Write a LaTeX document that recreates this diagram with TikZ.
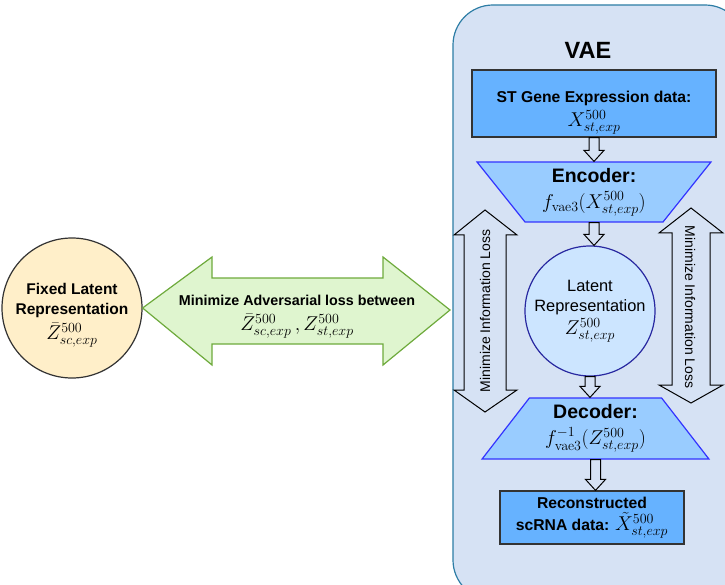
\RequirePackage{fix-cm}
\documentclass[tikz,border=0pt]{standalone}
\usepackage{amsmath}
\usepackage[no-math]{fontspec}
\setmainfont{Liberation Sans}
\usetikzlibrary{shapes.geometric,calc}

\definecolor{vaebg}{RGB}{214,226,244}
\definecolor{vaeline}{RGB}{45,125,165}
\definecolor{datablue}{RGB}{102,178,255}
\definecolor{codeblue}{RGB}{153,204,255}
\definecolor{codeline}{RGB}{51,51,255}
\definecolor{latfill}{RGB}{204,229,255}
\definecolor{latline}{RGB}{40,40,160}
\definecolor{fixfill}{RGB}{255,239,201}
\definecolor{advfill}{RGB}{223,245,207}
\definecolor{advline}{RGB}{110,170,60}

\newcommand{\mathsz}{\fontsize{20}{22}\selectfont}

\tikzset{
  gap arrow/.style={draw=black, fill=vaebg, line width=1pt,
    to path={let \p1=(\tikztostart.south), \p2=(\tikztotarget.north) in
      (\x1-5pt,\y1) -- (\x1-5pt,\y2+11pt) -- (\x1-10pt,\y2+11pt) -- (\x1,\y2)
      -- (\x1+10pt,\y2+11pt) -- (\x1+5pt,\y2+11pt) -- (\x1+5pt,\y1) -- cycle}}
}

\begin{document}
\begin{tikzpicture}[x=1pt, y=-1pt, thick,
    data node/.style={rectangle, draw=black!80, fill=datablue, line width=1.2pt,
      align=center, inner sep=0pt, font=\fontsize{15.7}{19}\selectfont\bfseries},
    code node/.style={trapezium, trapezium stretches=true, draw=codeline, fill=codeblue,
      line width=1.2pt, align=center, inner sep=0pt, font=\fontsize{19.5}{23}\selectfont\bfseries},
    lat node/.style={circle, draw=latline, fill=latfill, line width=1.2pt, align=center,
      inner sep=0pt, font=\fontsize{16.4}{20}\selectfont},
    fix node/.style={circle, draw=black!80, fill=fixfill, line width=1.2pt, align=center,
      inner sep=0pt, font=\fontsize{15.5}{19.5}\selectfont\bfseries},
    loss text/.style={font=\fontsize{14}{16}\selectfont}]
    \clip (0,0) rectangle (725,585);
    \useasboundingbox (0,0) rectangle (725,585);

    % VAE container
    \draw[draw=vaeline, fill=vaebg, line width=1.2pt, rounded corners=40pt] (453,5) rectangle (745,600);
    \node[font=\fontsize{23.5}{26}\selectfont\bfseries] (vae) at (588,50) {VAE};

    \node[data node, minimum width=244pt, minimum height=67pt] (gene) at (594,103.5)
        {\rule{0pt}{30pt}ST Gene Expression data:\\[3pt] {\mathsz$X^{500}_{st,exp}$}};
    \node[code node, minimum width=234pt, minimum height=60pt,
          trapezium left angle=127, trapezium right angle=127] (enc) at (594,192)
        {Encoder:\\[3pt] {\mathsz$f_{\mathrm{vae3}}(X^{500}_{st,exp})$}};
    \node[lat node, minimum size=130pt] (lat) at (590,311)
        {Latent\\ Representation\\[3pt] {\mathsz$Z^{500}_{st,exp}$}};
    \node[code node, minimum width=227pt, minimum height=61pt,
          trapezium left angle=53, trapezium right angle=53] (dec) at (595.5,428.5)
        {Decoder:\\[3pt] {\mathsz$f^{-1}_{\mathrm{vae3}}(Z^{500}_{st,exp})$}};
    \node[data node, minimum width=184pt, minimum height=53pt] (rec) at (592,517.5)
        {Reconstructed\\[3pt] scRNA data: {\mathsz$\tilde{X}^{500}_{st,exp}$}};

    \path (gene) edge[gap arrow] (enc)
          (enc) edge[gap arrow] (lat)
          (lat) edge[gap arrow] (dec)
          (dec) edge[gap arrow] (rec);

    % information loss arrows
    \draw[fill=vaebg, line width=1pt] (485,210) -- (517,235) -- (506,235) -- (506,390) -- (517,390)
        -- (485,412) -- (454,390) -- (464,390) -- (464,235) -- (454,235) -- cycle;
    \node[loss text, rotate=90] (lossl) at (485,311) {Minimize Information Loss};
    \draw[fill=vaebg, line width=1pt] (691,208) -- (723,233) -- (710,233) -- (710,385) -- (723,385)
        -- (691,403) -- (659,385) -- (672,385) -- (672,233) -- (659,233) -- cycle;
    \node[loss text, rotate=-90] (lossr) at (690,307) {Minimize Information Loss};

    % fixed latent and adversarial arrow
    \node[fix node, minimum size=140pt] (fix) at (72,308)
        {\rule{0pt}{26pt}Fixed Latent\\ Representation\\[6pt] {\mathsz$\bar{Z}^{500}_{sc,exp}$}};
    \draw[draw=advline, fill=advfill, line width=1.2pt] (fix.east) -- (212,257) -- (212,278) -- (383,278)
        -- (383,257) -- (450,310) -- (383,365) -- (383,344) -- (212,344) -- (212,365) -- cycle;
    \node[align=center, font=\fontsize{14.3}{18}\selectfont\bfseries] (adv) at (297,317)
        {Minimize Adversarial loss between\\[7pt] {\mathsz$\bar{Z}^{500}_{sc,exp}\,, Z^{500}_{st,exp}$}};
\end{tikzpicture}
\end{document}
